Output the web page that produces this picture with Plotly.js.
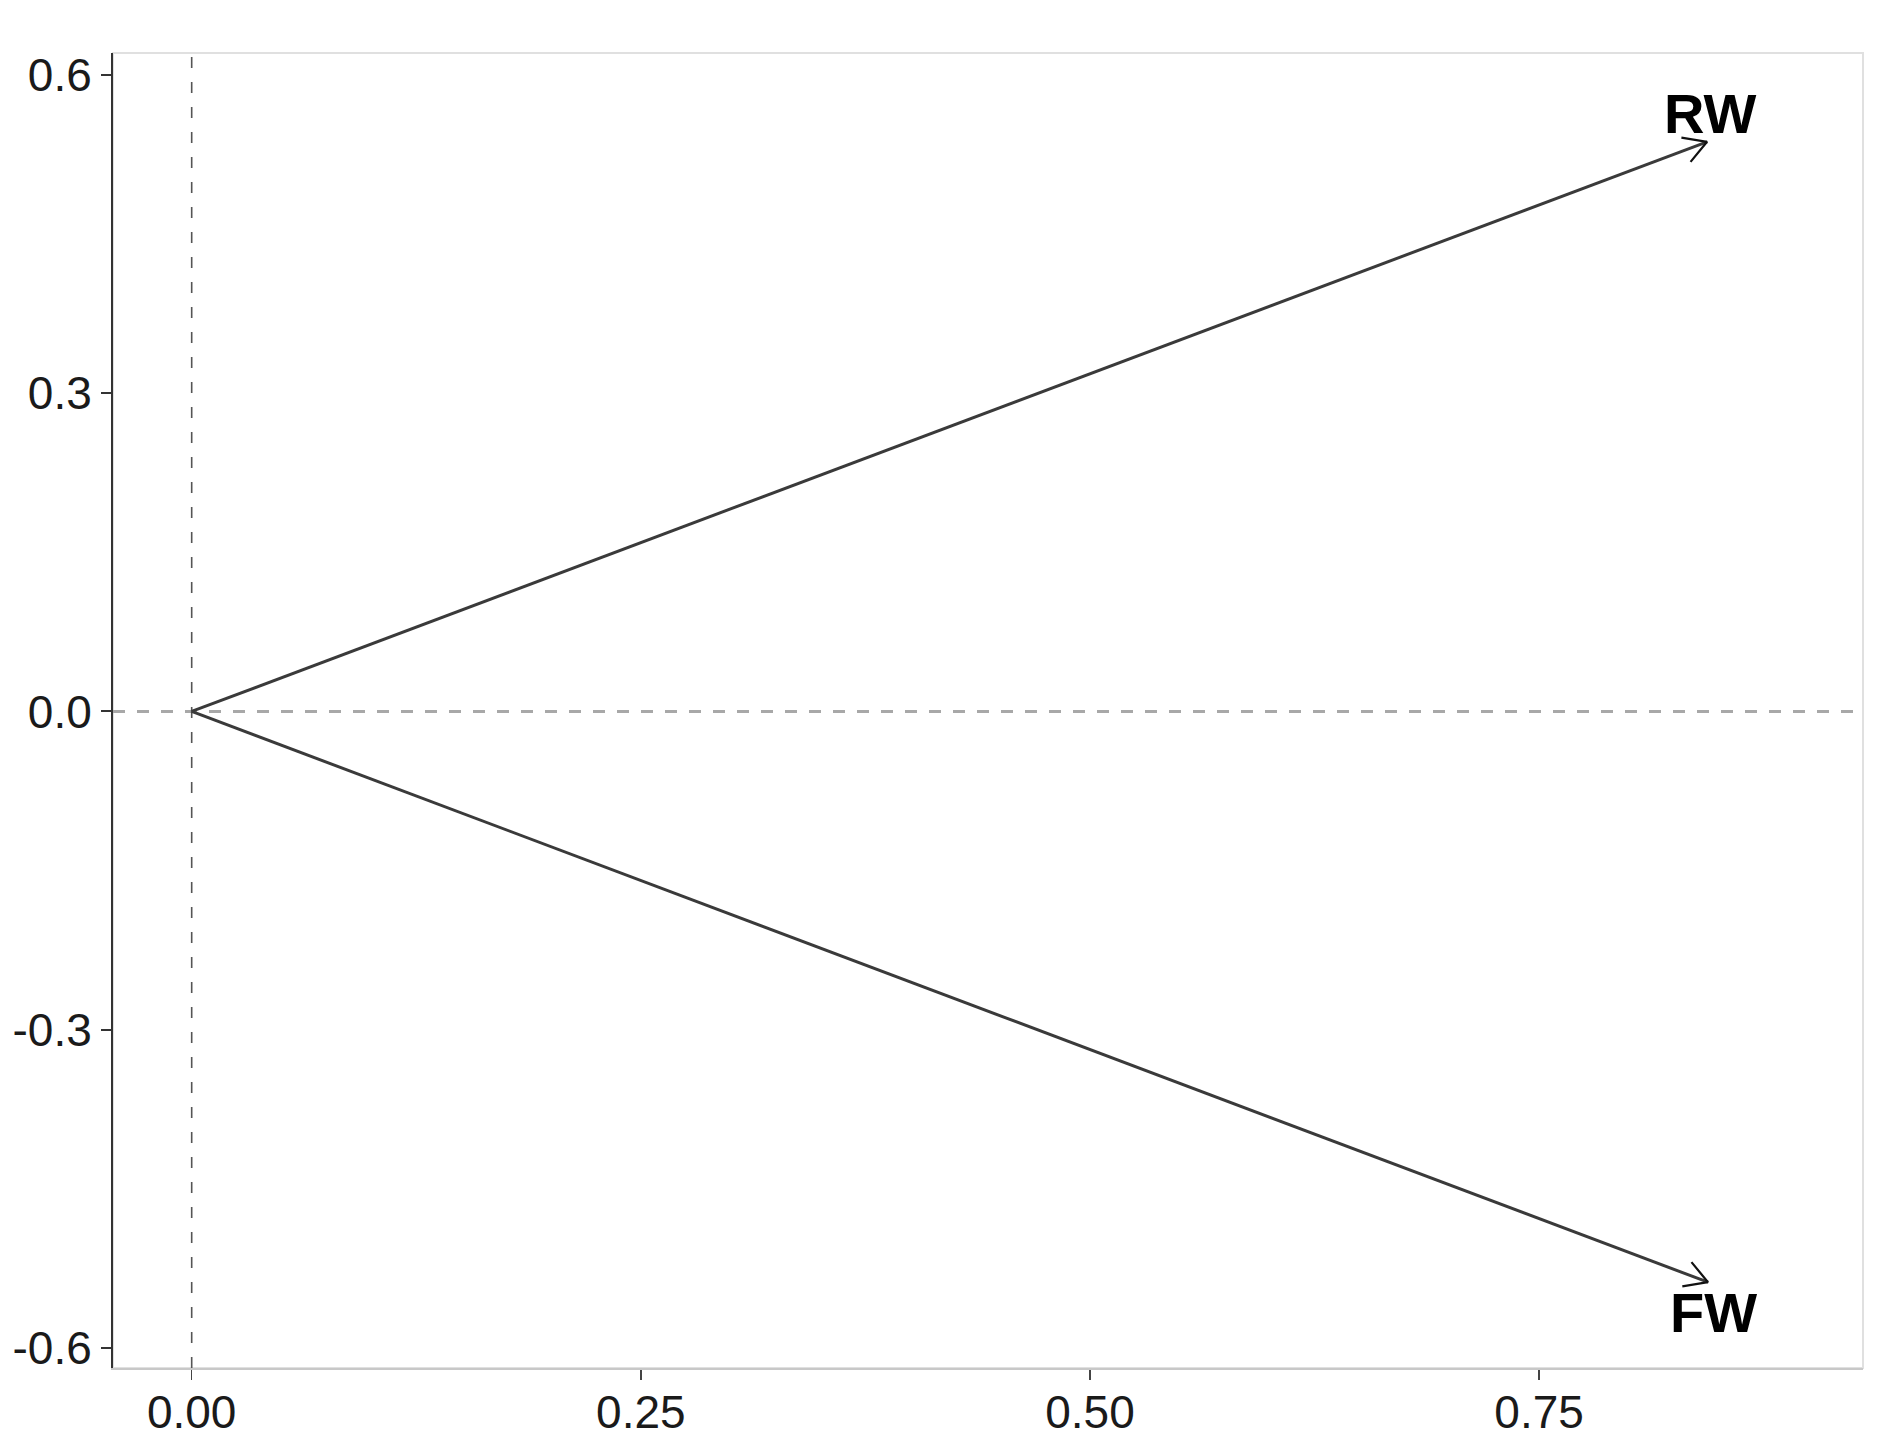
<!DOCTYPE html>
<html>
<head>
<meta charset="utf-8">
<script src="https://cdn.plot.ly/plotly-3.0.1.min.js"></script>
<style>html,body{margin:0;padding:0;background:#fff;}</style>
</head>
<body>
<div id="chart" style="width:1895px;height:1456px;"></div>
<script>
// Data
const vectorNames = ["RW", "FW"];
const vectorX = [0.8435, 0.8440];
const vectorY = [0.537, -0.538];
const labelX = [0.845, 0.847];
const labelY = [0.564, -0.567];
const xTicks = [0.00, 0.25, 0.50, 0.75];
const xTickLabels = ["0.00", "0.25", "0.50", "0.75"];
const yTicks = [0.6, 0.3, 0.0, -0.3, -0.6];
const yTickLabels = ["0.6", "0.3", "0.0", "-0.3", "-0.6"];

const W = 1895, H = 1456;
const margin = {l: 113, r: 32, t: 53, b: 88};
const xRange = [-0.0438, 0.9303];
const yRange = [-0.6189, 0.6207];
const plotW = W - margin.l - margin.r;
const plotH = H - margin.t - margin.b;
const pxPerX = plotW / (xRange[1] - xRange[0]);
const pxPerY = plotH / (yRange[1] - yRange[0]);

const traces = [];
// reference dashed lines
traces.push({x: [xRange[0], xRange[1]], y: [0, 0], mode: "lines", line: {color: "#a8a8a8", width: 3, dash: "12px,12px"}, hoverinfo: "skip", showlegend: false});
traces.push({x: [0, 0], y: [yRange[0], yRange[1]], mode: "lines", line: {color: "#555", width: 1.6, dash: "11px,14px"}, hoverinfo: "skip", showlegend: false});

// arrows
const headLen = 26, headAng = 30 * Math.PI / 180;
for (let i = 0; i < vectorNames.length; i++) {
  traces.push({x: [0, vectorX[i]], y: [0, vectorY[i]], mode: "lines", line: {color: "#3a3a3a", width: 3}, hoverinfo: "skip", showlegend: false, name: vectorNames[i]});
  // arrowhead wings, computed in pixel space then mapped back to data
  const dxp = vectorX[i] * pxPerX, dyp = vectorY[i] * pxPerY;
  const ang = Math.atan2(dyp, dxp);
  const wx = [], wy = [];
  [ang + Math.PI - headAng, ang + Math.PI + headAng].forEach((a, k) => {
    if (k === 1) { wx.push(vectorX[i]); wy.push(vectorY[i]); }
    const ex = vectorX[i] + headLen * Math.cos(a) / pxPerX;
    const ey = vectorY[i] + headLen * Math.sin(a) / pxPerY;
    wx.push(ex); wy.push(ey);
  });
  traces.push({x: [wx[0], wx[1], wx[2]], y: [wy[0], wy[1], wy[2]], mode: "lines", line: {color: "#111", width: 2.2}, hoverinfo: "skip", showlegend: false});
}

const annotations = vectorNames.map((n, i) => ({
  x: labelX[i], y: labelY[i], xref: "x", yref: "y", text: "<b>" + n + "</b>",
  showarrow: false, xanchor: "center", yanchor: "middle",
  font: {family: "Liberation Sans, Arial, sans-serif", size: 56, color: "#000"}
}));

const layout = {
  width: W, height: H,
  margin: margin,
  paper_bgcolor: "#fff", plot_bgcolor: "#fff",
  showlegend: false,
  xaxis: {
    range: xRange, tickvals: xTicks, ticktext: xTickLabels,
    showgrid: false, zeroline: false,
    showline: true, linecolor: "#c8c8c8", linewidth: 2,
    ticks: "outside", ticklen: 10, tickwidth: 1.5, tickcolor: "#444",
    ticklabelstandoff: -7,
    tickfont: {family: "Liberation Sans, Arial, sans-serif", size: 46, color: "#1a1a1a"}
  },
  yaxis: {
    range: yRange, tickvals: yTicks, ticktext: yTickLabels,
    showgrid: false, zeroline: false,
    showline: true, linecolor: "#333", linewidth: 2,
    ticks: "outside", ticklen: 10, tickwidth: 2, tickcolor: "#333",
    tickfont: {family: "Liberation Sans, Arial, sans-serif", size: 46, color: "#1a1a1a"}
  },
  shapes: [{type: "rect", xref: "paper", yref: "paper", x0: 0, x1: 1, y0: 0, y1: 1, line: {color: "#e0e0e0", width: 2}, layer: "below"}],
  annotations: annotations
};

Plotly.newPlot("chart", traces, layout, {displayModeBar: false, staticPlot: true});
</script>
</body>
</html>
